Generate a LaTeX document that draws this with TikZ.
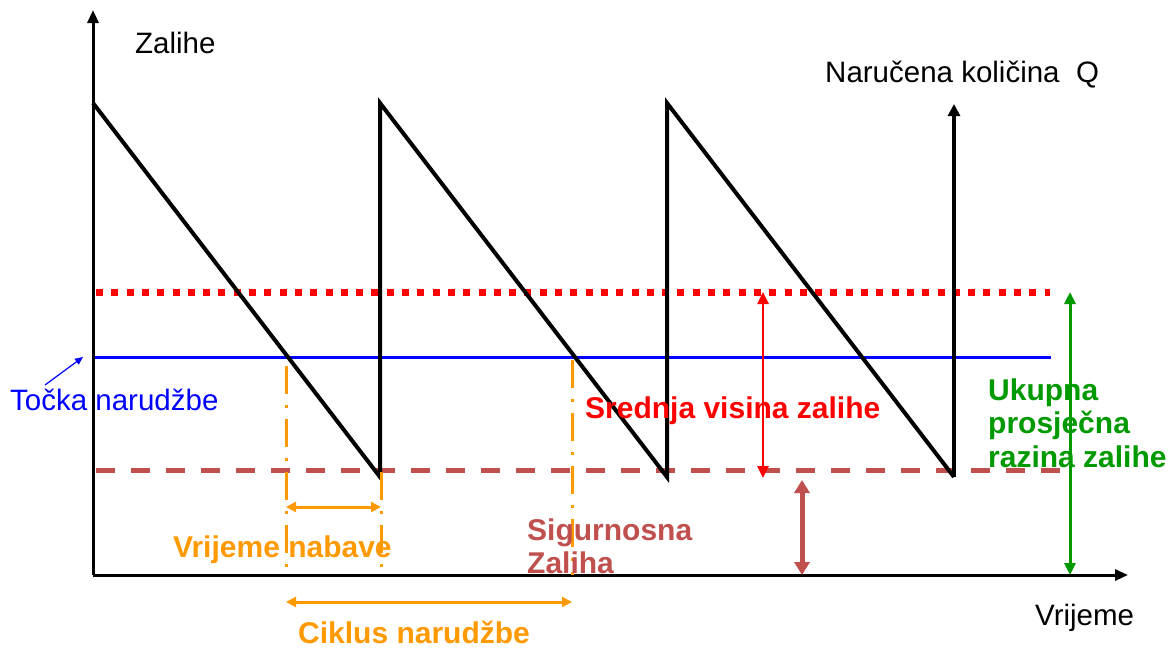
\documentclass[tikz,border=0pt]{standalone}
\usepackage{fontspec}
\setmainfont{Liberation Sans}
\usetikzlibrary{arrows.meta}
\definecolor{ora}{RGB}{255,153,0}
\definecolor{brn}{RGB}{192,80,77}
\definecolor{grn}{RGB}{0,153,0}
\begin{document}
\begin{tikzpicture}[x=1pt,y=-1pt,
  lbl/.style={inner sep=0,anchor=base west,font=\fontsize{29.5}{34}\selectfont},
  blbl/.style={inner sep=0,anchor=base west,font=\fontsize{30}{34}\selectfont\bfseries},
  axis/.style={line width=3pt,-{Triangle[length=13pt,width=11pt]}},
  saw/.style={line width=4pt,line join=miter},
  reddot/.style={red,line width=7pt,dash pattern=on 7pt off 8.3pt},
  brndash/.style={brn,line width=5pt,dash pattern=on 19pt off 16pt},
  bline/.style={blue,line width=3pt},
  oradd/.style={ora,line width=3pt,dash pattern=on 28pt off 11pt on 3pt off 11pt},
  oarr/.style={ora,line width=3pt,{Triangle[length=10pt,width=10pt]}-{Triangle[length=10pt,width=10pt]}},
  darr/.style={line width=#1,{Triangle[length=12pt,width=11pt]}-{Triangle[length=12pt,width=11pt]}},
  darr/.default=3pt
]
\useasboundingbox (0,0) rectangle (1173,648);
% coordinates
\coordinate (O) at (93,575);
\coordinate (ytop) at (93,10);
\coordinate (xend) at (1128,575);
\coordinate (p1) at (93,103);
\coordinate (b1) at (380,477);
\coordinate (p2) at (380,103);
\coordinate (b2) at (667,477);
\coordinate (p3) at (667,103);
\coordinate (b3) at (954,477);
\coordinate (p4) at (954,104);
% horizontal levels
\draw[reddot] (96,292) coordinate (r0) -- (1050,292) coordinate (r1);
\draw[bline] (93,357) coordinate (bl0) -- (1051,357) coordinate (bl1);
\draw[brndash] (96,470) coordinate (s0) -- (1068,470) coordinate (s1);
% axes
\draw[axis] (O) -- (ytop);
\draw[axis] (O) -- (xend);
% sawtooth
\draw[saw] (p1) -- (b1) -- (p2) -- (b2) -- (p3) -- (b3);
\draw[line width=4pt,-{Triangle[length=12pt,width=12pt]}] (b3) -- (p4);
% orange verticals
\coordinate (o1t) at (286,366); \coordinate (o1b) at (286,567);
\coordinate (o2t) at (381,472); \coordinate (o2b) at (381,567);
\coordinate (o3t) at (572,360); \coordinate (o3b) at (572,575);
\draw[oradd] (o1t) -- (o1b);
\draw[oradd] (o2t) -- (o2b);
\draw[oradd] (o3t) -- (o3b);
% orange arrows
\coordinate (lt0) at (286,507); \coordinate (lt1) at (381,507);
\coordinate (cy0) at (286,602); \coordinate (cy1) at (572,602);
\draw[oarr] (lt0) -- (lt1);
\draw[oarr] (cy0) -- (cy1);
% measure arrows
\coordinate (ra0) at (763,292); \coordinate (ra1) at (763,478);
\draw[red,darr=2.5pt] (ra0) -- (ra1);
\coordinate (ba0) at (802,480); \coordinate (ba1) at (802,575);
\draw[brn,line width=5pt,{Triangle[length=13pt,width=15pt]}-{Triangle[length=13pt,width=15pt]}] (ba0) -- (ba1);
\coordinate (ga0) at (1070,292); \coordinate (ga1) at (1070,575);
\draw[grn,darr=3pt] (ga0) -- (ga1);
% texts
\node[lbl] (zal) at (135,53) {Zalihe};
\node[lbl] (nar) at (825,82) {Naručena količina~~Q};
\node[lbl] (vrij) at (1035,625) {Vrijeme};
\node[lbl,blue] (tocka) at (10,410) {Točka narudžbe};
\coordinate (tarr) at (83,357);
\draw[blue,line width=1.2pt,-{Triangle[length=8pt,width=7pt]}] (45,385) -- (tarr);
\node[blbl,red] (sred) at (585,418) {Srednja visina zalihe};
\node[blbl,grn] (uk1) at (988,400) {Ukupna};
\node[blbl,grn] (uk2) at (988,433) {prosječna};
\node[blbl,grn] (uk3) at (988,467) {razina zalihe};
\node[blbl,brn] (sig1) at (527,540) {Sigurnosna};
\node[blbl,brn] (sig2) at (527,573) {Zaliha};
\node[blbl,ora] (vn) at (173,557) {Vrijeme nabave};
\node[blbl,ora] (cn) at (298,643) {Ciklus narudžbe};
\end{tikzpicture}
\end{document}
